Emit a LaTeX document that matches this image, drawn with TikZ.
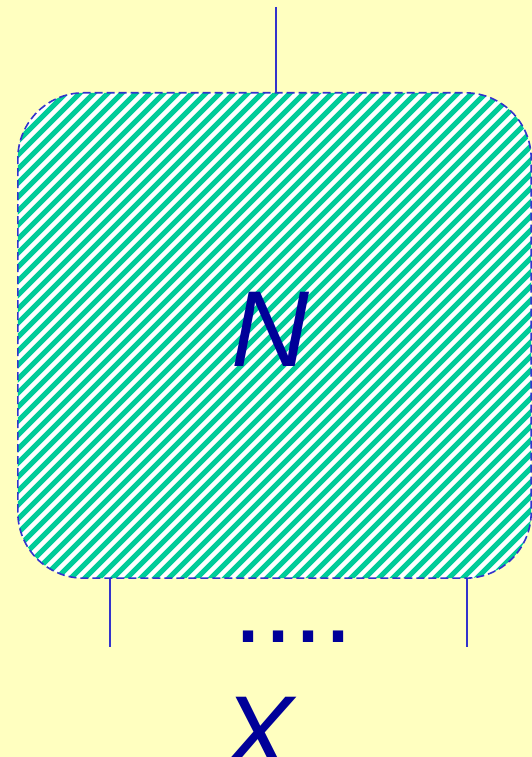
\documentclass[tikz,border=0pt]{standalone}
\usepackage{fontspec}
\setmainfont{Liberation Sans}
\definecolor{bgyellow}{HTML}{FFFFC0}
\definecolor{edgeblue}{HTML}{3333CC}
\definecolor{textblue}{HTML}{000099}
\definecolor{hatchgreen}{HTML}{00CC99}
\tikzset{
  boxstyle/.style={minimum width=513pt, minimum height=485pt, inner sep=0pt},
  boxedge/.style={draw=edgeblue, line width=1.6pt, dash pattern=on 8pt off 4pt, rounded corners=66pt},
  hatchline/.style={draw=hatchgreen, line width=5pt},
  wire/.style={draw=edgeblue, line width=1.6pt},
  bigtext/.style={text=textblue, inner sep=0pt, font=\fontsize{108}{120}\selectfont}
}
\begin{document}
\begin{tikzpicture}[x=1pt,y=1pt]
\useasboundingbox[fill=bgyellow] (0,0) rectangle (532,757);
\node[boxstyle] (box) at (274.5,421.5) {};
\begin{scope}
  \path[clip, rounded corners=66pt] (box.south west) rectangle (box.north east);
  \fill[white] (box.south west) rectangle (box.north east);
  \foreach \i in {-40,...,40} {
    \draw[hatchline] (\i*14, 150) -- ++(600,600);
  }
\end{scope}
\path[boxedge] (box.south west) rectangle (box.north east);
\node[bigtext, anchor=base] (nlab) at (270,390) {\itshape N};
\node[bigtext, anchor=base west] (dots) at (233,114) {....};
\node[bigtext, anchor=base] (xlab) at (258,-14) {\itshape X};
\coordinate (top) at (276,750);
\coordinate (bl) at (110,110);
\coordinate (br) at (467,110);
\draw[wire] (top) -- (top |- box.north);
\draw[wire] (bl) -- (bl |- box.south);
\draw[wire] (br) -- (br |- box.south);
\end{tikzpicture}
\end{document}
